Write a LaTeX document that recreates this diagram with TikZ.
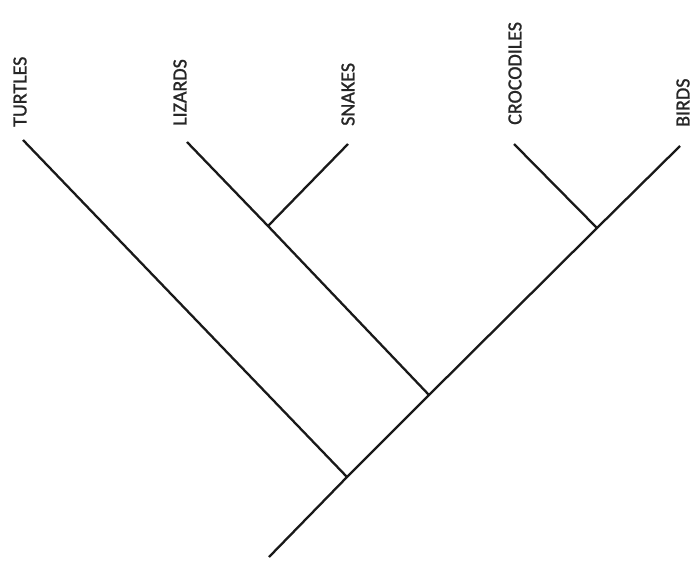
\documentclass[tikz,border=0pt]{standalone}
\usepackage{fontspec}
\setmainfont{Carlito}
\newfontfamily\taxonfont[FakeBold=1.2]{Carlito}
\begin{document}
\begin{tikzpicture}[x=1pt,y=-1pt,
  branch/.style={line width=2.3pt, black!90},
  taxon/.style={rotate=90, anchor=west, inner sep=0pt, font=\taxonfont\fontsize{20}{24}\selectfont, text=black!85}]
\useasboundingbox (0,0) rectangle (695,563);
% tips and junctions
\coordinate (root) at (269,557);
\coordinate (jT) at (347,477);
\coordinate (jL) at (429,395);
\coordinate (jC) at (597,228);
\coordinate (jS) at (268,226);
\coordinate (tT) at (23,140);
\coordinate (tL) at (187,142);
\coordinate (tS) at (348,144);
\coordinate (tC) at (514,144);
\coordinate (tB) at (680,146);
% labels
\node[taxon] (lT) at (20,127) {TURTLES};
\node[taxon] (lL) at (180,126) {LIZARDS};
\node[taxon] (lS) at (348,126) {SNAKES};
\node[taxon] (lC) at (515,125) {CROCODILES};
\node[taxon] (lB) at (683,127) {BIRDS};
% branches
\draw[branch] (root) -- (jT) -- (jL) -- (jC) -- (tB);
\draw[branch] (jT) -- (tT);
\draw[branch] (jL) -- (jS) -- (tL);
\draw[branch] (jS) -- (tS);
\draw[branch] (jC) -- (tC);
\end{tikzpicture}
\end{document}
